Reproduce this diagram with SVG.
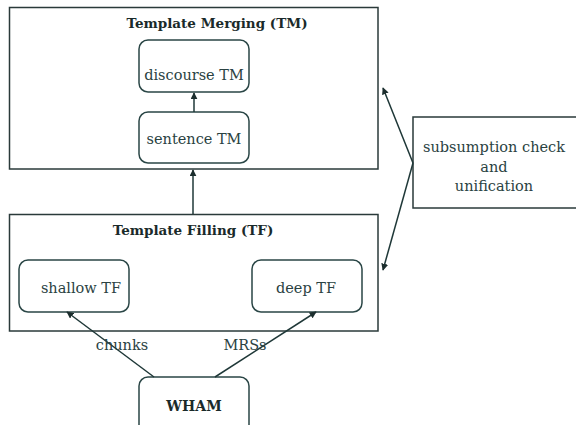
<svg xmlns="http://www.w3.org/2000/svg" width="576" height="425" viewBox="0 0 576 425">
  <defs>
    <marker id="arrow" viewBox="0 0 10 10" refX="9" refY="5" markerWidth="7" markerHeight="7" orient="auto-start-reverse" markerUnits="userSpaceOnUse">
      <path d="M0,0 L10,5 L0,10 z" fill="#1c2e2e"/>
    </marker>
  </defs>
  <style>
    .frame { fill: #ffffff; stroke: #2a3a3a; stroke-width: 1.5; }
    .node { fill: #ffffff; stroke: #2a4646; stroke-width: 1.5; }
    .edge { fill: none; stroke: #1f3838; stroke-width: 1.5; }
    text { font-family: 'DejaVu Serif', serif; font-size: 14.5px; fill: #2a4242; text-anchor: middle; }
    .title { font-weight: bold; fill: #1a2a2a; font-size: 13.5px; }
    .wham { font-weight: bold; fill: #1a2a2a; font-size: 14px; }
  </style>
  <rect width="576" height="425" fill="#ffffff"/>

  <!-- Template Merging stage -->
  <g id="tm">
    <rect class="frame" x="9.5" y="7.5" width="368.5" height="161.5"/>
    <text class="title" x="217" y="28">Template Merging (TM)</text>
  </g>
  <g id="discourse-tm">
    <rect class="node" x="139" y="40" width="110" height="52" rx="9"/>
    <text x="194" y="80">discourse TM</text>
  </g>
  <g id="sentence-tm">
    <rect class="node" x="139" y="112" width="110" height="51" rx="9"/>
    <text x="194" y="144">sentence TM</text>
  </g>

  <!-- Template Filling stage -->
  <g id="tf">
    <rect class="frame" x="9.5" y="214.5" width="368.5" height="116.5"/>
    <text class="title" x="193" y="235">Template Filling (TF)</text>
  </g>
  <g id="shallow-tf">
    <rect class="node" x="19" y="260" width="110" height="52" rx="9"/>
    <text x="81" y="293">shallow TF</text>
  </g>
  <g id="deep-tf">
    <rect class="node" x="252" y="260" width="110" height="52" rx="9"/>
    <text x="306" y="293">deep TF</text>
  </g>

  <!-- Input -->
  <g id="wham">
    <rect class="node" x="139" y="377" width="110" height="60" rx="9"/>
    <text class="wham" x="194" y="411">WHAM</text>
  </g>

  <!-- Checking component -->
  <g id="subsumption">
    <rect class="frame" x="413" y="117" width="170" height="91"/>
    <text x="494" y="152">subsumption check</text>
    <text x="494" y="172">and</text>
    <text x="494" y="191">unification</text>
  </g>

  <g id="connectors">
    <line class="edge" x1="194" y1="112" x2="194" y2="93" marker-end="url(#arrow)"/>
    <line class="edge" x1="193" y1="214" x2="193" y2="170" marker-end="url(#arrow)"/>
    <line class="edge" x1="154" y1="377" x2="67" y2="312" marker-end="url(#arrow)"/>
    <line class="edge" x1="215" y1="377" x2="316" y2="312" marker-end="url(#arrow)"/>
    <line class="edge" x1="413" y1="163" x2="383" y2="88" marker-end="url(#arrow)"/>
    <line class="edge" x1="413" y1="163" x2="383" y2="270" marker-end="url(#arrow)"/>
    <text x="122" y="350">chunks</text>
    <text x="245" y="350">MRSs</text>
  </g>
</svg>
